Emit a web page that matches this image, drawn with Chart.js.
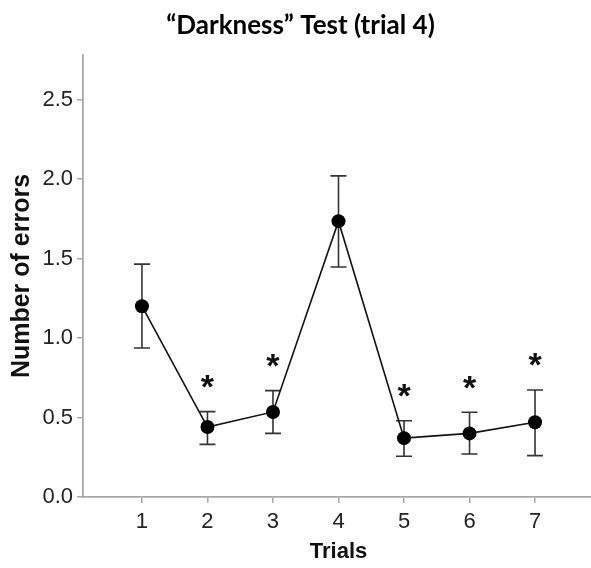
<!DOCTYPE html>
<html>
<head>
<meta charset="utf-8">
<script src="https://cdn.jsdelivr.net/npm/chart.js@4.4.1/dist/chart.umd.min.js"></script>
<style>
	html, body { margin: 0; padding: 0; background: #fff; overflow: hidden; }
	#wrap { width: 601px; height: 568px; }
</style>
</head>
<body>
<div id="wrap"><canvas id="myChart" width="601" height="568"></canvas></div>
<script>
// trial numbers and mean errors with the whisker ends
const trials = [1, 2, 3, 4, 5, 6, 7];
const means = [1.20, 0.44, 0.535, 1.735, 0.37, 0.40, 0.47];
const errHi = [1.465, 0.537, 0.669, 2.02, 0.48, 0.533, 0.673];
const errLo = [0.937, 0.331, 0.40, 1.447, 0.256, 0.27, 0.26];
// trials marked with *
const signif = [false, true, true, false, true, true, true];
const yTicks = [0, 0.5, 1.0, 1.5, 2.0, 2.5];

const axisGray = '#a8a8a8';

var points = trials.map(function (t, i) {
	return { x: t, y: means[i] };
});

// whiskers under the points, asterisks above them
const errorBars = {
	id: 'errorBars',
	beforeDatasetsDraw: function (chart) {
		var ctx = chart.ctx;
		var xs = chart.scales.x, ys = chart.scales.y;
		ctx.save();
		ctx.strokeStyle = '#333';
		ctx.lineWidth = 1.6;
		for (var i = 0; i < trials.length; i++) {
			var px = xs.getPixelForValue(trials[i]);
			var top = ys.getPixelForValue(errHi[i]);
			var bot = ys.getPixelForValue(errLo[i]);
			ctx.beginPath();
			ctx.moveTo(px, top); ctx.lineTo(px, bot);
			ctx.moveTo(px - 8, top); ctx.lineTo(px + 8, top);
			ctx.moveTo(px - 8, bot); ctx.lineTo(px + 8, bot);
			ctx.stroke();
		}
		ctx.restore();
	},
	afterDatasetsDraw: function (chart) {
		var ctx = chart.ctx;
		var xs = chart.scales.x, ys = chart.scales.y;
		ctx.save();
		ctx.fillStyle = '#111';
		ctx.font = 'bold 34px "Liberation Sans", Arial, sans-serif';
		ctx.textAlign = 'center';
		ctx.textBaseline = 'alphabetic';
		var m = ctx.measureText('*');
		var shift = (m.actualBoundingBoxAscent - m.actualBoundingBoxDescent) / 2;
		for (var i = 0; i < trials.length; i++) {
			if (!signif[i]) continue;
			var px = xs.getPixelForValue(trials[i]);
			var cy = ys.getPixelForValue(errHi[i]) - 30;
			ctx.fillText('*', px, cy + shift);
		}
		ctx.restore();
	}
};

const config = {
	type: 'line',
	data: {
		datasets: [{
			data: points,
			borderColor: '#111',
			borderWidth: 1.6,
			pointRadius: 7,
			pointBackgroundColor: '#000',
			pointBorderColor: '#000',
			pointBorderWidth: 0,
			tension: 0
		}]
	},
	options: {
		responsive: false,
		animation: false,
		events: [],
		layout: { padding: 0 },
		plugins: {
			legend: { display: false },
			tooltip: { enabled: false },
			title: {
				display: true,
				text: '\u201cDarkness\u201d Test (trial 4)',
				color: '#000',
				font: { family: 'Lato, "Open Sans", sans-serif', size: 26, weight: 'bold', lineHeight: 1.2 },
				padding: { top: 10, bottom: 13.8 }
			}
		},
		scales: {
			x: {
				type: 'linear',
				min: 0.1,
				max: 7.9,
				afterBuildTicks: function (scale) {
					scale.ticks = trials.map(function (t) { return { value: t }; });
				},
				afterFit: function (scale) { scale.height = 71; },
				grid: { drawOnChartArea: false, drawTicks: true, tickLength: 6, color: axisGray, lineWidth: 1.5 },
				border: { display: true, color: axisGray, width: 1.8 },
				ticks: {
					color: '#222',
					padding: 6,
					font: { family: '"Liberation Sans", Arial, sans-serif', size: 22 },
					callback: function (v) { return String(v); }
				},
				title: {
					display: true,
					text: 'Trials',
					color: '#111',
					font: { family: '"Liberation Sans", Arial, sans-serif', size: 22, weight: 'bold', lineHeight: 1.2 },
					padding: { top: 0, bottom: 3 }
				}
			},
			y: {
				min: 0,
				max: 2.78,
				afterBuildTicks: function (scale) {
					scale.ticks = yTicks.map(function (v) { return { value: v }; });
				},
				afterFit: function (scale) { scale.width = 83; },
				grid: { drawOnChartArea: false, drawTicks: true, tickLength: 6, color: axisGray, lineWidth: 1.5 },
				border: { display: true, color: axisGray, width: 1.8 },
				ticks: {
					color: '#222',
					padding: 4,
					font: { family: '"Liberation Sans", Arial, sans-serif', size: 22 },
					callback: function (v) { return Number(v).toFixed(1); }
				},
				title: {
					display: true,
					text: 'Number of errors',
					color: '#111',
					font: { family: '"Liberation Sans", Arial, sans-serif', size: 25, weight: 'bold', lineHeight: 1.2 },
					padding: { top: 7, bottom: 0 }
				}
			}
		}
	},
	plugins: [errorBars]
};

const myChart = new Chart(document.getElementById('myChart'), config);
</script>
</body>
</html>
